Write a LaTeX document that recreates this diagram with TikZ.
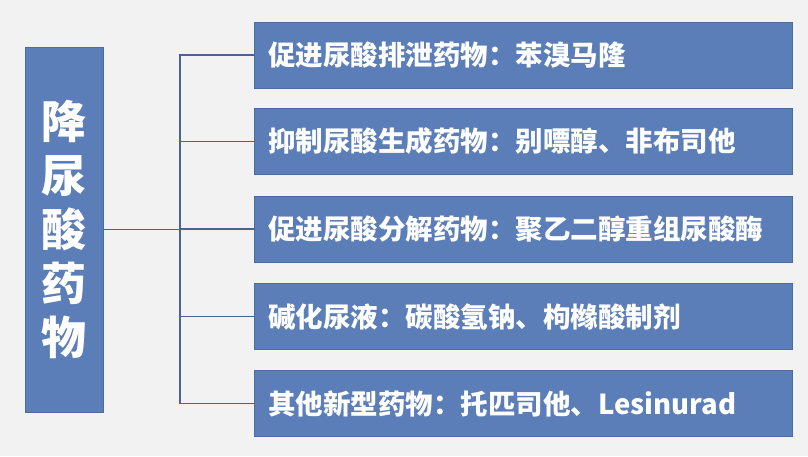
\documentclass[tikz,border=0pt]{standalone}
\usepackage{fontspec}
\setmainfont{Noto Sans CJK SC}
\definecolor{boxblue}{HTML}{5B7DB8}
\definecolor{bg}{HTML}{F2F2F2}
\definecolor{linec}{HTML}{4A6390}
\begin{document}
\begin{tikzpicture}[x=1pt,y=-1pt,
  item/.style={fill=boxblue,draw=boxblue!85!black,line width=0.6pt,minimum width=528pt,minimum height=66pt,anchor=west,text=white,font=\fontsize{27.5}{30}\selectfont\bfseries,align=left,text width=510pt,inner xsep=14pt},
  conn/.style={draw=linec,line width=1.2pt}]
\fill[bg] (0,0) rectangle (808,456);
\node[fill=boxblue,draw=boxblue!85!black,line width=0.6pt,minimum width=78pt,minimum height=365pt,text=white,font=\fontsize{45}{54}\selectfont\bfseries,align=center] (L) at (64,229.5) {降\\尿\\酸\\药\\物};
\node[item] (a) at (254,55) {促进尿酸排泄药物：苯溴马隆};
\node[item] (b) at (254,141.5) {抑制尿酸生成药物：别嘌醇、非布司他};
\node[item] (c) at (254,229) {促进尿酸分解药物：聚乙二醇重组尿酸酶};
\node[item] (d) at (254,316.5) {碱化尿液：碳酸氢钠、枸橼酸制剂};
\node[item] (e) at (254,403.5) {其他新型药物：托匹司他、Lesinurad};
\coordinate (j) at (180,229.5);
\draw[conn] (L.east) -- (j);
\draw[conn] (a.west) -| (j);
\draw[conn] (e.west) -| (j);
\draw[conn] (b.west) -- (b.west -| j);
\draw[conn] (c.west) -- (c.west -| j);
\draw[conn] (d.west) -- (d.west -| j);
\end{tikzpicture}
\end{document}
